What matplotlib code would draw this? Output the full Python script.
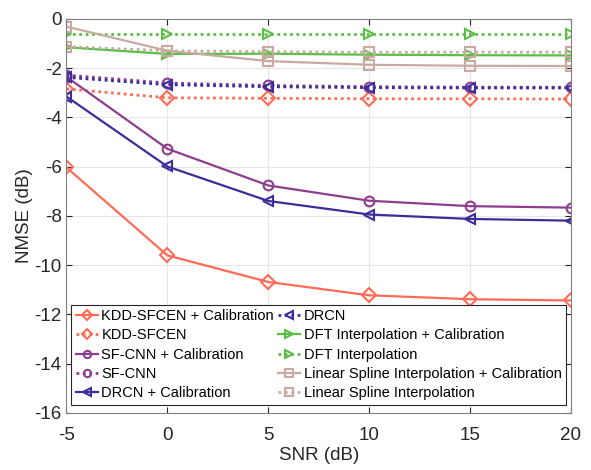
import matplotlib.pyplot as plt

plt.rcParams['font.family'] = ['Liberation Sans', 'DejaVu Sans']
plt.rcParams['axes.unicode_minus'] = False

snr = [-5, 0, 5, 10, 15, 20]

# NMSE (dB) per method
kdd_cal = [-6.03, -9.6, -10.68, -11.22, -11.38, -11.43]
kdd = [-2.84, -3.2, -3.22, -3.24, -3.24, -3.25]
sfcnn_cal = [-2.35, -5.27, -6.76, -7.38, -7.6, -7.66]
sfcnn = [-2.28, -2.6, -2.7, -2.75, -2.77, -2.77]
drcn_cal = [-3.15, -5.99, -7.39, -7.94, -8.12, -8.19]
drcn = [-2.37, -2.67, -2.75, -2.79, -2.8, -2.8]
dft_cal = [-1.15, -1.42, -1.41, -1.45, -1.47, -1.48]
dft = [-0.61, -0.61, -0.61, -0.61, -0.61, -0.61]
spline_cal = [-0.31, -1.29, -1.71, -1.86, -1.9, -1.91]
spline = [-1.12, -1.29, -1.33, -1.35, -1.35, -1.35]

c_kdd = '#ff6b57'
c_sf = '#8e3e8e'
c_drcn = '#3b2d9a'
c_dft = '#5cbf45'
c_spl = '#c9aaa2'

fig = plt.figure(figsize=(5.91, 4.70), dpi=100)
ax = fig.add_axes([0.1125, 0.1213, 0.8535, 0.8383])

solid = dict(linestyle='-', linewidth=1.6, markersize=7, markerfacecolor='none', markeredgewidth=1.5)
dot = dict(linestyle=(0, (1.0, 1.3)), linewidth=2.0, markersize=7, markerfacecolor='none', markeredgewidth=1.5)

ax.plot(snr, kdd_cal, color=c_kdd, marker='D', label='KDD-SFCEN + Calibration', **solid)
ax.plot(snr, kdd, color=c_kdd, marker='D', label='KDD-SFCEN', **dot)
ax.plot(snr, sfcnn_cal, color=c_sf, marker='o', label='SF-CNN + Calibration', **solid)
ax.plot(snr, sfcnn, color=c_sf, marker='o', label='SF-CNN', **dot)
ax.plot(snr, drcn_cal, color=c_drcn, marker='<', label='DRCN + Calibration', **solid)
ax.plot(snr, drcn, color=c_drcn, marker='<', label='DRCN', **dot)
ax.plot(snr, dft_cal, color=c_dft, marker='>', label='DFT Interpolation + Calibration', **solid)
ax.plot(snr, dft, color=c_dft, marker='>', label='DFT Interpolation', **dot)
ax.plot(snr, spline_cal, color=c_spl, marker='s', label='Linear Spline Interpolation + Calibration', **solid)
ax.plot(snr, spline, color=c_spl, marker='s', label='Linear Spline Interpolation', **dot)

ax.set_xlim(-5, 20)
ax.set_ylim(-16, 0)
ax.set_xticks(snr)
ax.set_yticks(range(-16, 1, 2))
ax.grid(True, color='#e6e6e6', linewidth=0.8)
ax.set_axisbelow(True)
ax.tick_params(direction='in', top=True, right=True, labelsize=13.5, colors='#262626', length=4)
ax.tick_params(axis='x', pad=10)
for s in ax.spines.values():
    s.set_color('#808080')
    s.set_linewidth(0.8)

ax.set_xlabel('SNR (dB)', fontsize=13.5, color='#262626', labelpad=2)
ax.set_ylabel('NMSE (dB)', fontsize=13.5, color='#262626', labelpad=1)

leg = ax.legend(ncol=2, loc='lower center', bbox_to_anchor=(0.5, 0.014), fontsize=10.5,
                frameon=True, fancybox=False, edgecolor='#262626', framealpha=1,
                handlelength=1.5, handletextpad=0.25, columnspacing=0.3,
                labelspacing=0.36, borderpad=0.3, borderaxespad=0.2, markerscale=0.75)
leg.get_frame().set_linewidth(0.8)

fig.savefig('out.png', dpi=100)
